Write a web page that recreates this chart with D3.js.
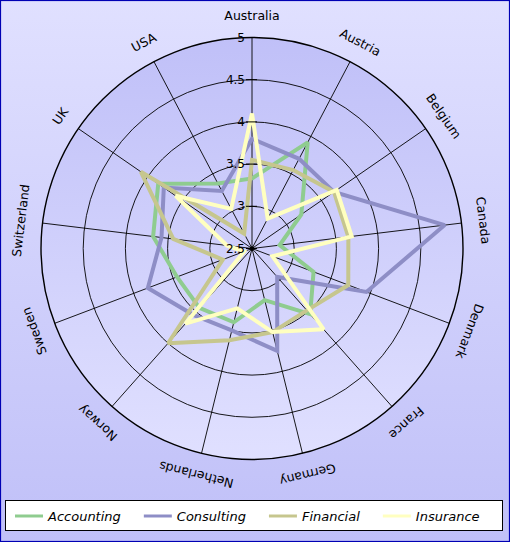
<!DOCTYPE html>
<html>
<head>
<meta charset="utf-8">
<script src="https://cdn.jsdelivr.net/npm/d3@7"></script>
<style>
  html, body { margin: 0; padding: 0; background: #ffffff; }
  svg { display: block; }
  text { font-family: "DejaVu Sans", Verdana, sans-serif; }
</style>
</head>
<body>
<div id="chart"></div>
<script>
// ---------- data ----------
const categories = ["Australia", "Austria", "Belgium", "Canada", "Denmark", "France", "Germany",
                    "Netherlands", "Norway", "Sweden", "Switzerland", "UK", "USA"];
const seriesNames = ["Accounting", "Consulting", "Financial", "Insurance"];
const accounting = [3.33, 3.92, 3.21, 2.83, 3.28, 3.54, 3.13, 3.40, 3.44, 3.45, 3.68, 3.85, 3.37];
const consulting = [3.80, 3.70, 3.68, 4.80, 3.95, 2.95, 3.75, 3.50, 3.55, 3.82, 3.58, 3.77, 3.27];
const financial  = [3.55, 3.55, 3.68, 3.65, 3.72, 3.48, 3.52, 3.62, 4.00, 2.87, 3.44, 4.10, 2.70];
const insurance  = [4.10, 2.90, 3.72, 3.69, 2.76, 3.78, 3.52, 3.23, 3.69, 2.60, 2.80, 3.60, 3.03];
const tickValues = [2.5, 3, 3.5, 4, 4.5, 5];
const tickLabels = ["2.5", "3", "3.5", "4", "4.5", "5"];
const seriesColors = ["#8fcc8f", "#8e8ec6", "#c6c68e", "#ffffc0"];

const seriesValues = [accounting, consulting, financial, insurance];

// ---------- layout ----------
const W = 510, H = 542;
const cx = 252, cy = 248.5, R = 211;

const svg = d3.select("#chart").append("svg")
  .attr("width", W).attr("height", H);

const defs = svg.append("defs");
const bgGrad = defs.append("linearGradient").attr("id", "bgGrad")
  .attr("x1", 0).attr("y1", 0).attr("x2", 0).attr("y2", 1);
bgGrad.append("stop").attr("offset", "0%").attr("stop-color", "#e0e0ff");
bgGrad.append("stop").attr("offset", "100%").attr("stop-color", "#c0c0f8");

const plotGrad = defs.append("linearGradient").attr("id", "plotGrad")
  .attr("x1", 0).attr("y1", 0).attr("x2", 0).attr("y2", 1);
plotGrad.append("stop").attr("offset", "0%").attr("stop-color", "#c0c0f8");
plotGrad.append("stop").attr("offset", "100%").attr("stop-color", "#e0e0ff");

// background + frame
svg.append("rect").attr("x", 0).attr("y", 0).attr("width", W).attr("height", H)
  .attr("fill", "url(#bgGrad)");
svg.append("rect").attr("x", 0.5).attr("y", 0.5).attr("width", W - 1).attr("height", H - 1)
  .attr("fill", "none").attr("stroke", "#0000b4").attr("stroke-width", 1.2);

// scales
const rScale = d3.scaleLinear().domain([tickValues[0], tickValues[tickValues.length - 1]]).range([0, R]);
const aScale = d3.scaleLinear().domain([0, categories.length]).range([0, 2 * Math.PI]);

const g = svg.append("g").attr("transform", `translate(${cx},${cy})`);

// plot area
g.append("circle").attr("r", R).attr("fill", "url(#plotGrad)");

// rings
g.selectAll("circle.ring").data(tickValues.slice(1))
  .join("circle").attr("class", "ring")
  .attr("r", d => rScale(d))
  .attr("fill", "none")
  .attr("stroke", "#000")
  .attr("stroke-width", (d, i, n) => i === n.length - 1 ? 1.4 : 0.9);

// spokes
g.selectAll("line.spoke").data(categories)
  .join("line").attr("class", "spoke")
  .attr("x1", 0).attr("y1", 0)
  .attr("x2", (d, i) => R * Math.sin(aScale(i)))
  .attr("y2", (d, i) => -R * Math.cos(aScale(i)))
  .attr("stroke", "#000").attr("stroke-width", 0.9);

// series lines
const line = d3.lineRadial()
  .angle((d, i) => aScale(i))
  .radius(d => rScale(d))
  .curve(d3.curveLinearClosed);

g.selectAll("path.series").data(seriesValues)
  .join("path").attr("class", "series")
  .attr("d", d => line(d))
  .attr("fill", "none")
  .attr("stroke", (d, i) => seriesColors[i])
  .attr("stroke-width", 4)
  .attr("stroke-linejoin", "miter")
  .attr("stroke-miterlimit", 2);

// axis ticks on the first spoke
g.selectAll("line.tick").data(tickValues)
  .join("line").attr("class", "tick")
  .attr("x1", -6).attr("x2", 5)
  .attr("y1", d => -rScale(d)).attr("y2", d => -rScale(d))
  .attr("stroke", "#000").attr("stroke-width", 1);

g.selectAll("text.tickLabel").data(tickValues)
  .join("text").attr("class", "tickLabel")
  .attr("x", -7)
  .attr("y", d => -rScale(d))
  .attr("text-anchor", "end")
  .attr("dominant-baseline", "central")
  .attr("font-size", 12)
  .attr("fill", "#000")
  .text((d, i) => tickLabels[i]);

// center dot
g.append("circle").attr("r", 2.2).attr("fill", "#000");

// category labels
const labelR = R + 22;
g.selectAll("text.cat").data(categories)
  .join("text").attr("class", "cat")
  .attr("transform", (d, i) => {
    const a = aScale(i);
    const x = labelR * Math.sin(a), y = -labelR * Math.cos(a);
    return `translate(${x},${y}) rotate(${a * 180 / Math.PI})`;
  })
  .attr("text-anchor", "middle")
  .attr("dominant-baseline", "central")
  .attr("font-size", 12.5)
  .attr("fill", "#000")
  .text(d => d);

// legend
const legend = svg.append("g");
legend.append("rect").attr("x", 5.5).attr("y", 500.5).attr("width", 497).attr("height", 30)
  .attr("fill", "#fff").attr("stroke", "#000").attr("stroke-width", 1);

let lx = 15;
const ly = 516;
seriesNames.forEach((name, i) => {
  legend.append("line")
    .attr("x1", lx).attr("x2", lx + 28)
    .attr("y1", ly).attr("y2", ly)
    .attr("stroke", seriesColors[i]).attr("stroke-width", 3);
  const t = legend.append("text")
    .attr("x", lx + 33).attr("y", ly)
    .attr("dominant-baseline", "central")
    .attr("font-size", 13)
    .attr("font-style", "italic")
    .attr("fill", "#000")
    .text(name);
  const w = t.node().getComputedTextLength();
  lx = lx + 33 + w + 23;
});
</script>
</body>
</html>
